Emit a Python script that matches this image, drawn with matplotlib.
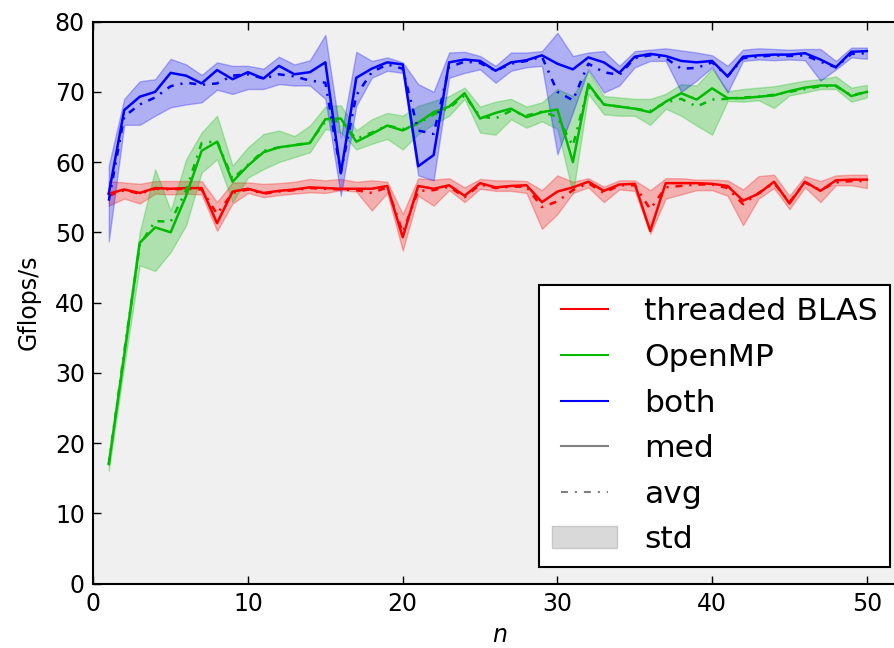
"""Median / mean / std of Gflops/s for the three parallel variants."""

import matplotlib
matplotlib.use("Agg")
import matplotlib.pyplot as plt
from matplotlib.lines import Line2D
from matplotlib.patches import Patch
import numpy as np

n = np.arange(1, 51)

# threaded BLAS
blas_med = [55.5, 56.1, 55.6, 56.3, 56.2, 56.3, 56.3, 51.3, 55.8, 56.2,
            55.6, 55.9, 56.1, 56.4, 56.3, 56.2, 56.2, 56.2, 56.6, 49.3,
            56.6, 56.2, 56.7, 55.2, 57.0, 56.4, 56.6, 56.7, 54.3, 55.8,
            56.4, 57.2, 55.9, 56.8, 56.9, 50.2, 57.0, 57.0, 57.0, 56.9,
            56.6, 54.5, 55.5, 57.2, 54.1, 57.2, 55.9, 57.4, 57.5, 57.5]
blas_avg = [55.2, 56.0, 55.5, 56.2, 56.1, 56.2, 56.1, 52.6, 55.6, 56.1,
            55.5, 55.8, 56.0, 56.3, 56.2, 56.1, 56.0, 55.6, 56.4, 50.0,
            55.9, 56.0, 56.5, 55.0, 56.8, 56.3, 56.5, 56.5, 53.6, 54.4,
            56.0, 57.0, 55.6, 56.7, 56.7, 53.3, 56.4, 56.6, 56.8, 56.8,
            56.3, 54.0, 55.6, 57.0, 54.3, 57.1, 56.0, 57.1, 57.3, 57.3]
blas_hi = [57.3, 57.1, 56.9, 57.3, 57.3, 57.3, 57.3, 54.3, 57.1, 57.1,
           56.9, 57.0, 57.2, 57.6, 57.4, 57.6, 57.2, 57.4, 57.2, 52.6,
           57.7, 57.5, 57.7, 56.4, 57.6, 57.4, 57.4, 57.3, 56.0, 58.1,
           57.2, 57.7, 56.5, 57.4, 57.4, 56.0, 57.7, 57.7, 57.5, 57.5,
           57.4, 56.1, 58.0, 58.2, 55.2, 58.0, 57.3, 58.1, 58.2, 58.2]
blas_lo = [53.8, 54.8, 54.1, 55.5, 55.4, 55.5, 55.4, 50.2, 54.1, 55.6,
           55.0, 55.3, 55.5, 55.7, 55.6, 56.0, 55.8, 53.1, 55.6, 47.4,
           55.2, 53.8, 56.0, 54.3, 56.2, 55.9, 55.9, 55.6, 50.5, 52.6,
           55.6, 56.4, 54.3, 56.1, 55.9, 49.8, 54.8, 55.4, 56.0, 56.0,
           55.2, 51.0, 54.8, 56.3, 53.3, 56.4, 54.3, 56.7, 56.7, 56.3]

# OpenMP
omp_med = [17.0, 32.5, 48.5, 50.7, 50.0, 55.2, 61.6, 62.9, 57.2, 59.5,
           61.4, 62.1, 62.4, 62.7, 66.1, 66.2, 62.9, 64.0, 65.2, 64.5,
           65.6, 67.1, 67.9, 69.8, 66.2, 67.0, 67.6, 66.4, 67.1, 67.5,
           60.0, 71.1, 68.2, 67.9, 67.6, 67.1, 68.6, 69.8, 68.9, 70.5,
           69.1, 69.1, 69.3, 69.5, 70.1, 70.6, 70.9, 70.9, 69.4, 70.0]
omp_avg = [17.0, 33.0, 48.2, 51.6, 51.5, 56.0, 62.7, 63.0, 57.6, 59.6,
           61.6, 62.1, 62.4, 62.8, 65.8, 65.8, 63.3, 64.2, 65.2, 64.7,
           65.5, 66.8, 67.7, 69.5, 66.5, 66.2, 67.3, 66.6, 67.2, 66.4,
           62.3, 70.8, 68.2, 67.9, 67.6, 67.3, 68.5, 69.0, 67.9, 68.9,
           69.0, 69.2, 69.3, 69.6, 70.0, 70.4, 70.8, 70.8, 69.5, 70.0]
omp_hi = [17.8, 34.0, 50.0, 59.0, 53.1, 60.4, 64.2, 66.6, 59.5, 62.1,
          64.0, 64.5, 63.7, 65.2, 67.9, 68.1, 64.5, 66.1, 67.0, 66.6,
          68.0, 68.7, 69.4, 70.6, 67.9, 68.6, 69.0, 67.9, 68.5, 70.4,
          69.4, 73.0, 69.4, 69.2, 69.0, 69.0, 69.7, 71.1, 70.9, 73.3,
          70.1, 70.4, 70.6, 70.8, 71.2, 71.6, 71.8, 72.2, 70.6, 71.0]
omp_lo = [16.0, 31.0, 45.3, 44.5, 47.2, 51.0, 58.5, 60.4, 54.3, 57.8,
          59.0, 60.0, 60.7, 61.4, 64.7, 64.2, 61.8, 62.6, 63.3, 61.8,
          64.0, 65.4, 66.6, 69.0, 64.2, 63.9, 66.1, 64.9, 65.8, 64.7,
          55.5, 69.7, 66.8, 66.6, 66.6, 65.3, 67.6, 66.6, 65.2, 63.9,
          68.7, 68.6, 68.8, 67.7, 69.5, 69.9, 70.4, 70.4, 68.6, 69.2]

# both
both_med = [55.5, 67.4, 69.3, 70.0, 72.7, 72.3, 71.2, 73.1, 71.8, 72.8,
            71.9, 73.7, 72.5, 72.8, 74.2, 58.4, 72.0, 73.3, 74.2, 73.9,
            59.4, 61.0, 74.2, 74.6, 74.4, 73.0, 74.2, 74.5, 75.2, 74.0,
            73.2, 74.9, 74.2, 72.7, 75.0, 75.4, 75.1, 74.4, 74.2, 74.4,
            72.2, 75.0, 75.2, 75.3, 75.3, 75.5, 74.6, 73.5, 75.7, 75.8]
both_avg = [54.5, 66.5, 68.2, 69.2, 70.8, 71.3, 71.0, 71.2, 72.3, 72.5,
            71.9, 72.5, 72.2, 71.6, 71.3, 58.5, 69.5, 72.8, 73.9, 73.3,
            64.5, 64.0, 73.5, 74.3, 74.1, 73.0, 74.0, 74.4, 75.0, 70.0,
            68.8, 74.0, 72.8, 72.4, 74.8, 75.2, 74.8, 73.3, 73.4, 74.2,
            72.2, 74.8, 75.0, 75.2, 75.1, 75.2, 74.3, 73.5, 75.4, 75.5]
both_hi = [59.5, 69.0, 71.5, 71.8, 74.7, 73.9, 72.4, 74.2, 73.7, 73.7,
           73.3, 75.0, 73.9, 74.5, 78.1, 63.5, 75.7, 74.4, 74.9, 74.2,
           71.1, 70.0, 75.6, 75.7, 75.1, 73.7, 75.6, 75.6, 75.8, 78.4,
           75.1, 75.6, 75.8, 73.7, 75.8, 76.0, 76.2, 75.9, 75.6, 75.2,
           73.7, 76.0, 76.2, 76.1, 76.0, 76.1, 76.1, 74.4, 76.3, 76.3]
both_lo = [48.7, 65.3, 65.3, 66.6, 67.8, 68.2, 68.5, 70.3, 69.7, 70.4,
           70.4, 71.1, 70.9, 70.9, 69.0, 55.2, 68.0, 72.0, 73.0, 72.7,
           58.1, 57.4, 72.0, 72.7, 73.2, 71.3, 73.0, 73.5, 73.7, 61.1,
           67.1, 73.2, 69.9, 70.9, 73.5, 74.4, 74.4, 70.0, 71.6, 73.5,
           69.9, 74.4, 74.6, 74.5, 74.6, 74.5, 71.6, 73.2, 74.9, 74.7]

labels = ["threaded BLAS", "OpenMP", "both"]
colors = ["#ff0000", "#00bb00", "#0000ff"]

plt.rcParams["lines.scale_dashes"] = False
DASHDOT = (0, (5, 5, 1.5, 5))

W, H = 894, 648
fig = plt.figure(figsize=(W / 100, H / 100), dpi=100)
fig.patch.set_facecolor("white")
ax = fig.add_axes([93.3 / W, (H - 583.5) / H, (905.5 - 93.3) / W, (583.5 - 21.6) / H])
ax.set_facecolor("#f0f0f0")

series = [
    (blas_med, blas_avg, blas_lo, blas_hi),
    (omp_med, omp_avg, omp_lo, omp_hi),
    (both_med, both_avg, both_lo, both_hi),
]
for (med, avg, lo, hi), c in zip(series, colors):
    ax.fill_between(n, lo, hi, color=c, alpha=0.27, linewidth=1)
    ax.plot(n, med, color=c, linewidth=1.8)
    ax.plot(n, avg, color=c, linewidth=1.8, linestyle=DASHDOT)

ax.set_xlim(0, 52.5)
ax.set_ylim(0, 80)
ax.set_xticks(range(0, 60, 10))
ax.set_yticks(range(0, 90, 10))
ax.tick_params(direction="in", length=6, width=1, labelsize=17, top=True, right=True, pad=6)
for s in ax.spines.values():
    s.set_linewidth(1.5)
ax.set_xlabel("$n$", fontsize=17, labelpad=5)
ax.set_ylabel("Gflops/s", fontsize=17, labelpad=10)

handles = [Line2D([], [], color=c, linewidth=1.5) for c in colors]
handles += [
    Line2D([], [], color="gray", linewidth=1.5),
    Line2D([], [], color="gray", linewidth=1.5, linestyle=DASHDOT),
    Patch(facecolor="#d9d9d9", edgecolor="#c8c8c8"),
]
leg = ax.legend(handles, labels + ["med", "avg", "std"],
                loc="lower right", bbox_to_anchor=(890 / W, (H - 567) / H),
                bbox_transform=fig.transFigure, borderaxespad=0,
                fontsize=22.6, numpoints=2, handlelength=2.1, handletextpad=0.84,
                borderpad=0.4, labelspacing=0.53, fancybox=False, framealpha=1)
leg.get_frame().set_edgecolor("black")
leg.get_frame().set_linewidth(1.5)

fig.savefig("out.png", dpi=100)
